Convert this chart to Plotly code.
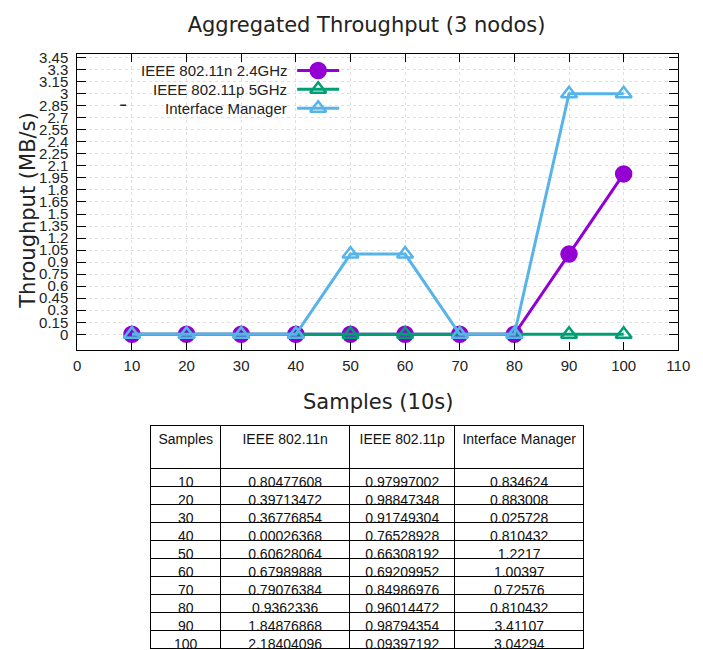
import plotly.graph_objects as go

# ---- plotted series -------------------------------------------------------
SAMPLES_X = [10, 20, 30, 40, 50, 60, 70, 80, 90, 100]
N_24GHZ = [0, 0, 0, 0, 0, 0, 0, 0, 1, 2]
P_5GHZ = [0, 0, 0, 0, 0, 0, 0, 0, 0, 0]
IFACE_MGR = [0, 0, 0, 0, 1, 1, 0, 0, 3, 3]

SERIES_NAMES = ["IEEE 802.11n 2.4GHz", "IEEE 802.11p 5GHz", "Interface Manager"]
SERIES_COLORS = ["#9400d3", "#009e73", "#56b4e9"]
SERIES_SYMBOLS = ["circle", "triangle-up-open", "triangle-up-open"]

X_TICKS = [0, 10, 20, 30, 40, 50, 60, 70, 80, 90, 100, 110]
Y_TICKS = [0, 0.15, 0.3, 0.45, 0.6, 0.75, 0.9, 1.05, 1.2, 1.35, 1.5, 1.65,
           1.8, 1.95, 2.1, 2.25, 2.4, 2.55, 2.7, 2.85, 3, 3.15, 3.3, 3.45]
Y_TICK_TEXT = ["0", "0.15", "0.3", "0.45", "0.6", "0.75", "0.9", "1.05", "1.2",
               "1.35", "1.5", "1.65", "1.8", "1.95", "2.1", "2.25", "2.4", "2.55",
               "2.7", "2.85", "3", "3.15", "3.3", "3.45"]

# ---- table ---------------------------------------------------------------
# non-breaking space keeps the long header on one line
TABLE_HEADER = ["Samples", "IEEE\u00a0802.11n", "IEEE\u00a0802.11p", "Interface\u00a0Manager"]
TBL_SAMPLES = ["10", "20", "30", "40", "50", "60", "70", "80", "90", "100"]
TBL_N = ["0,80477608", "0,39713472", "0,36776854", "0,00026368", "0.60628064",
         "0.67989888", "0.79076384", "0.9362336", "1.84876868", "2.18404096"]
TBL_P = ["0,97997002", "0,98847348", "0,91749304", "0,76528928", "0.66308192",
         "0.69209952", "0.84986976", "0.96014472", "0.98794354", "0.09397192"]
TBL_IM = ["0,834624", "0,883008", "0,025728", "0,810432", "1.2217",
          "1.00397", "0.72576", "0.810432", "3.41107", "3.04294"]

W, H = 703, 650
SANS = "Liberation Sans, Arial, sans-serif"
DEJAVU = "DejaVu Sans, sans-serif"


def px(x):
    return x / W


def py(y):
    return 1 - y / H


fig = go.Figure()

for name, vals, color, sym in zip(SERIES_NAMES, [N_24GHZ, P_5GHZ, IFACE_MGR],
                                  SERIES_COLORS, SERIES_SYMBOLS):
    fig.add_trace(go.Scatter(
        x=SAMPLES_X, y=vals, name=name, mode="lines+markers",
        line=dict(color=color, width=3),
        marker=dict(symbol=sym, size=15 if sym == "circle" else 14, color=color,
                    line=dict(color=color, width=2.5)),
        showlegend=False, xaxis="x", yaxis="y",
    ))

# key: label text right-aligned, sample line + marker to its right
# (drawn on a full-page helper axis measured in pixels)
KEY_ROWS_Y = [66, 85, 104]
KEY_TEXT_RIGHT = 292
KEY_LINE = [300, 343]
for name, color, sym, ky in zip(SERIES_NAMES, SERIES_COLORS, SERIES_SYMBOLS, KEY_ROWS_Y):
    fig.add_trace(go.Scatter(
        x=KEY_LINE, y=[ky, ky], mode="lines", line=dict(color=color, width=3),
        showlegend=False, hoverinfo="skip", xaxis="x2", yaxis="y2",
    ))
    fig.add_trace(go.Scatter(
        x=[sum(KEY_LINE) / 2], y=[ky], mode="markers",
        marker=dict(symbol=sym, size=15 if sym == "circle" else 14, color=color,
                    line=dict(color=color, width=2.5)),
        showlegend=False, hoverinfo="skip", xaxis="x2", yaxis="y2",
    ))
    fig.add_annotation(
        x=px(KEY_TEXT_RIGHT), y=py(ky), xref="paper", yref="paper",
        text=name, showarrow=False, xanchor="right", yanchor="middle",
        font=dict(family=SANS, size=15, color="#222222"),
    )

# small stray key dash left of the labels
fig.add_shape(type="line", xref="paper", yref="paper",
              x0=px(119), x1=px(125), y0=py(101), y1=py(101),
              line=dict(color="#222222", width=1.5))

fig.add_trace(go.Table(
    domain=dict(x=[px(150), px(594)], y=[0, py(424)]),
    columnwidth=[72, 132, 108, 132],
    header=dict(values=TABLE_HEADER, height=43, align="center",
                fill_color="white", line=dict(color="black", width=1),
                font=dict(family=SANS, size=14, color="#111111")),
    cells=dict(values=[TBL_SAMPLES, TBL_N, TBL_P, TBL_IM], height=18, align="center",
               fill_color="white", line=dict(color="black", width=1),
               font=dict(family=SANS, size=14, color="#111111")),
))

fig.update_layout(
    width=W, height=H,
    margin=dict(l=0, r=0, t=0, b=0),
    paper_bgcolor="white", plot_bgcolor="rgba(0,0,0,0)",
    title=dict(text="Aggregated Throughput (3 nodos)", x=px(371), y=py(20),
               xref="paper", yref="paper", xanchor="center", yanchor="middle",
               font=dict(family=DEJAVU, size=21, color="#222222")),
    xaxis=dict(
        domain=[px(75), px(690)], range=[0, 110],
        tickmode="array", tickvals=X_TICKS,
        ticks="inside", ticklen=8, tickcolor="black",
        showline=True, linecolor="black", linewidth=1, mirror="ticks",
        showgrid=True, gridcolor="#e0e0e0", griddash="dot", gridwidth=1,
        zeroline=False, ticklabelstandoff=2,
        tickfont=dict(family=SANS, size=15, color="#222222"),
    ),
    yaxis=dict(
        domain=[py(348), py(49)], range=[-0.2, 3.5],
        tickmode="array", tickvals=Y_TICKS, ticktext=Y_TICK_TEXT,
        ticks="inside", ticklen=9, tickcolor="black",
        showline=True, linecolor="black", linewidth=1, mirror="ticks",
        showgrid=True, gridcolor="#e0e0e0", griddash="dot", gridwidth=1,
        zeroline=False, ticklabelstandoff=5,
        tickfont=dict(family=SANS, size=15, color="#222222"),
    ),
    xaxis2=dict(domain=[0, 1], range=[0, W], visible=False, fixedrange=True,
                anchor="y2"),
    yaxis2=dict(domain=[0, 1], range=[H, 0], visible=False, fixedrange=True,
                anchor="x2"),
    annotations=list(fig.layout.annotations) + [
        dict(x=px(383), y=py(400), xref="paper", yref="paper", text="Samples (10s)",
             showarrow=False, xanchor="center", yanchor="middle",
             font=dict(family=DEJAVU, size=21, color="#222222")),
        dict(x=px(25), y=py(207), xref="paper", yref="paper", text="Throughput (MB/s)",
             showarrow=False, textangle=-90, xanchor="center", yanchor="middle",
             font=dict(family=DEJAVU, size=21, color="#222222")),
    ],
)

fig.write_html("out.html")
